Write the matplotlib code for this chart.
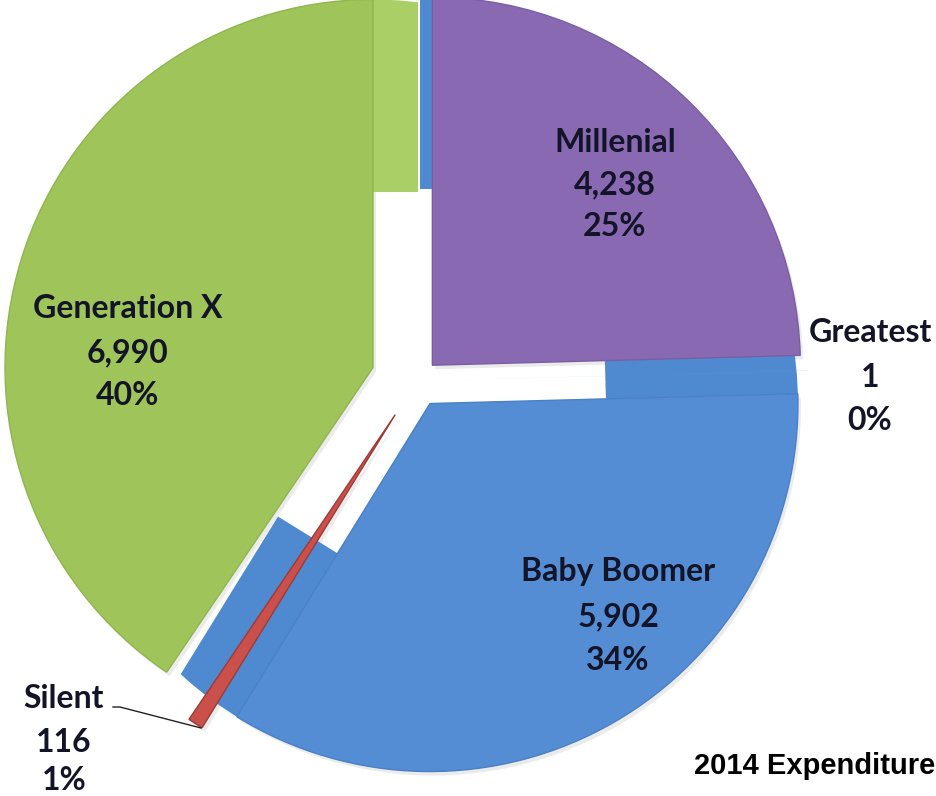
import numpy as np
import matplotlib
matplotlib.use('Agg')
import matplotlib.pyplot as plt
from matplotlib.patches import Wedge, Polygon, Circle

generations = ['Millenial', 'Greatest', 'Baby Boomer', 'Silent', 'Generation X']
spend = [4238, 1, 5902, 116, 6990]
value_labels = ['4,238', '1', '5,902', '116', '6,990']
pct_labels = ['25%', '0%', '34%', '1%', '40%']

face_colors = ['#896AB2', '#4BACC6', '#548DD4', '#C9504B', '#9EC45A']
edge_colors = ['#7A5EA2', '#4BACC6', '#4A80C6', '#9E3A36', '#90B550']
wall_blue = '#4F8AD0'
wall_green = '#AACF66'

# layout (pixels of the 936x796 picture, centre of the pie at 417,381)
CX, CY = 417, 381
R = 368
R_IN = 176
explode = [22, 22, 26, 40, 46]
# (slice, edge, width, colour) - the visible side walls of the 3d slices
walls = [(4, 1, 45, wall_green), (0, 2, 12, wall_blue),
         (2, 2, 40, wall_blue), (2, 1, 70, wall_blue)]
label_x = [615, 870, 618, 64, 128]
label_y = [(142, 185, 227), (332, 377, 420), (572, 617, 660),
           (698, 742, 780), (308, 353, 395)]


def px(x, y):
    return x - CX, CY - y


fig = plt.figure(figsize=(9.36, 7.96), dpi=100)
ax = fig.add_axes([0, 0, 1, 1])
ax.set_xlim(-CX, 936 - CX)
ax.set_ylim(CY - 796, CY)
ax.set_aspect('equal')
ax.axis('off')

angles = np.array(spend) / sum(spend) * 360
apexes, thetas = [], []
start = 90.0
for i, ang in enumerate(angles):
    t2 = start
    t1 = start - ang
    start = t1
    mid = np.deg2rad((t1 + t2) / 2)
    apex = np.array([explode[i] * np.cos(mid), explode[i] * np.sin(mid)])
    apexes.append(apex)
    thetas.append((t1, t2))

    lw = 0 if ang < 1 else 1.0
    # soft shadow
    ax.add_patch(Wedge(apex + np.array([3, -4]), R, t1, t2,
                       fc='black', ec='none', alpha=0.08, zorder=0.5))
    zo = 3 if generations[i] == 'Silent' else 2
    ax.add_patch(Wedge(apex, R, t1, t2, fc=face_colors[i],
                       ec=edge_colors[i], lw=lw, zorder=zo))

for i, edge, w, col in walls:
    t1, t2 = thetas[i]
    th = np.deg2rad(t1 if edge == 1 else t2)
    u = np.array([np.cos(th), np.sin(th)])
    if edge == 1:
        n = np.array([np.sin(th), -np.cos(th)])
    else:
        n = np.array([-np.sin(th), np.cos(th)])
    a = apexes[i]
    p0 = a + R_IN * u
    p1 = a + (R + 20) * u
    poly = Polygon([p0, p1, p1 + w * n, p0 + w * n], closed=True,
                   fc=col, ec='none', zorder=1)
    ax.add_patch(poly)
    poly.set_clip_path(Circle(a, R, transform=ax.transData))

txt = dict(ha='center', va='center', fontsize=23, fontweight='bold',
           color='#141428', family=['Lato', 'DejaVu Sans'], zorder=5)
for i, name in enumerate(generations):
    ys = label_y[i]
    for s, y in zip([name, value_labels[i], pct_labels[i]], ys):
        ax.text(*px(label_x[i], y), s, **txt)

# leader line for the Silent slice
lx, ly = zip(px(113, 707), px(120, 707), px(201, 728))
ax.plot(lx, ly, color='#222222', lw=1, zorder=4)

ax.text(*px(694, 766), '2014 Expenditure', ha='left', va='center',
        fontsize=21, fontweight='bold', family='Liberation Sans', color='black')

fig.savefig('out.png', dpi=100)
